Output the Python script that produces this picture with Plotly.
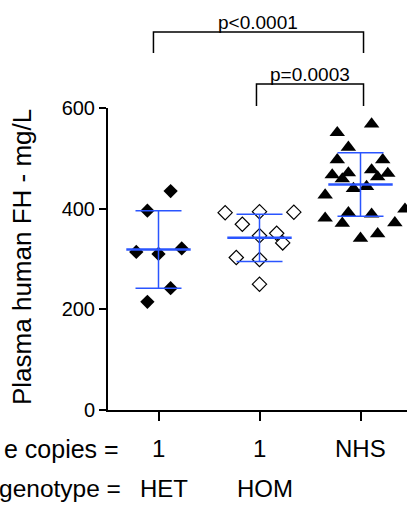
import plotly.graph_objects as go

# ---------------- data ----------------
groups = ["HET", "HOM", "NHS"]
group_pos = [1, 2, 3]
row1_labels = ["1", "1", "NHS"]
row2_labels = ["HET", "HOM"]
row_titles = ["e copies =", "genotype ="]

het_values = [435, 396, 314, 310, 321, 242, 215]
het_jitter = [0.12, -0.11, -0.22, 0.0, 0.23, 0.12, -0.11]

hom_values = [392, 394, 393, 369, 346, 351, 332, 303, 299, 250]
hom_jitter = [-0.34, 0.0, 0.34, -0.17, 0.0, 0.17, 0.23, -0.23, 0.0, 0.0]

nhs_values = [568, 551, 522, 497, 497, 467, 471, 477, 470, 459, 463,
              440, 444, 427, 381, 392, 389, 371, 372, 399, 341, 350]
nhs_jitter = [0.11, -0.23, -0.12, -0.23, 0.22, -0.28, -0.12, 0.11, 0.27, -0.18, 0.17,
              -0.07, 0.06, -0.35, -0.35, -0.12, 0.11, -0.18, 0.34, 0.44, 0.0, 0.17]

group_means = [319, 342, 448]
group_sds = [77, 47, 63]

y_ticks = [0, 200, 400, 600]
p_texts = ["p<0.0001", "p=0.0003"]
p_pairs = [(0.95, 3.03), (1.97, 3.03)]

# ---------------- figure ----------------
BLUE = "#2a55ff"
FONT = "Liberation Sans, Arial, Helvetica, sans-serif"

W, H = 407, 507
ML, MR, MT, MB = 108, 0, 108, 97
plot_w = W - ML - MR
plot_h = H - MT - MB
px_per_unit = 101.0
x_range = [0.5, 0.5 + plot_w / px_per_unit]


def py(pix):
    """pixel row -> paper y"""
    return (H - MB - pix) / plot_h


def px(pix):
    """pixel column -> paper x"""
    return (pix - ML) / plot_w


fig = go.Figure()

fig.add_trace(go.Scatter(
    x=[group_pos[0] + j for j in het_jitter], y=het_values, mode="markers",
    marker=dict(symbol="diamond", size=11, color="black", line=dict(width=0)),
    cliponaxis=False, showlegend=False))

fig.add_trace(go.Scatter(
    x=[group_pos[1] + j for j in hom_jitter], y=hom_values, mode="markers",
    marker=dict(symbol="diamond-open", size=11, color="black", line=dict(width=1.2)),
    cliponaxis=False, showlegend=False))

fig.add_trace(go.Scatter(
    x=[group_pos[2] + j for j in nhs_jitter], y=nhs_values, mode="markers",
    marker=dict(symbol="triangle-up", size=13.5, color="black", line=dict(width=0)),
    cliponaxis=False, showlegend=False))

# mean +/- SD
fig.add_trace(go.Scatter(
    x=group_pos, y=group_means, mode="markers",
    marker=dict(symbol="line-ew-open", size=46, color=BLUE, line=dict(width=2.5, color=BLUE)),
    error_y=dict(type="data", array=group_sds, visible=True, color=BLUE, thickness=1.5, width=23),
    cliponaxis=False, showlegend=False))

# significance brackets
bracket_tops = [py(32), py(84)]
bracket_legs = [py(53), py(106)]
for (xa, xb), top, leg, txt in zip(p_pairs, bracket_tops, bracket_legs, p_texts):
    fig.add_shape(type="path", xref="x", yref="paper",
                  path=f"M {xa},{leg} L {xa},{top} L {xb},{top} L {xb},{leg}",
                  line=dict(color="black", width=1.5))
    fig.add_annotation(x=(xa + xb) / 2, y=top, xref="x", yref="paper", text=txt,
                       showarrow=False, yanchor="bottom", xanchor="center",
                       font=dict(family=FONT, size=19, color="black"), yshift=-3)

# category labels
for xp, t in zip(group_pos, row1_labels):
    fig.add_annotation(x=xp, y=py(449), xref="x", yref="paper", text=t, showarrow=False,
                       xanchor="center", yanchor="middle",
                       font=dict(family=FONT, size=24, color="black"))
for xp, t in zip(group_pos[:2], row2_labels):
    fig.add_annotation(x=xp + 0.055, y=py(488), xref="x", yref="paper", text=t, showarrow=False,
                       xanchor="center", yanchor="middle",
                       font=dict(family=FONT, size=24, color="black"))
for yy, xr, fs, t in zip([449, 488], [121, 123], [25, 24.5], row_titles):
    fig.add_annotation(x=px(xr), y=py(yy), xref="paper", yref="paper", text=t, showarrow=False,
                       xanchor="right", yanchor="middle",
                       font=dict(family=FONT, size=fs, color="black"))

# y-axis title
fig.add_annotation(x=px(22), y=py(257), xref="paper", yref="paper",
                   text="Plasma human FH - mg/L", textangle=-90, showarrow=False,
                   xanchor="center", yanchor="middle",
                   font=dict(family=FONT, size=26, color="black"))

fig.update_layout(
    width=W, height=H, autosize=False,
    margin=dict(l=ML, r=MR, t=MT, b=MB, pad=0),
    paper_bgcolor="white", plot_bgcolor="white",
    font=dict(family=FONT, color="black"),
    xaxis=dict(range=x_range, tickvals=group_pos, ticktext=["", "", ""],
               showgrid=False, zeroline=False, showline=True, linecolor="black", linewidth=2,
               ticks="outside", ticklen=9, tickwidth=2, tickcolor="black", fixedrange=True),
    yaxis=dict(range=[0, 600], tickvals=y_ticks, ticktext=[str(v) for v in y_ticks],
               showgrid=False, zeroline=False, showline=True, linecolor="black", linewidth=2,
               ticks="outside", ticklen=7, tickwidth=2, tickcolor="black",
               tickfont=dict(family=FONT, size=20, color="black"), fixedrange=True),
)

fig.write_html(
    "out.html",
    config={"displayModeBar": False, "staticPlot": True},
    post_script="document.body.style.margin='0';document.body.style.overflow='hidden';",
)
